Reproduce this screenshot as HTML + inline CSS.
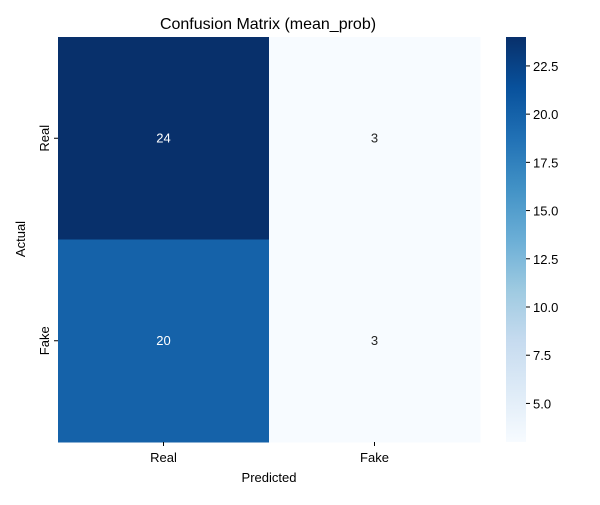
<!DOCTYPE html>
<html><head><meta charset="utf-8"><style>
body{margin:0;background:#fff}
text{font-family:"Liberation Sans","DejaVu Sans",sans-serif;fill:#000}
</style></head><body>
<svg id="chart" width="600" height="500" xmlns="http://www.w3.org/2000/svg">
<defs><linearGradient id="cbgrad" x1="0" y1="1" x2="0" y2="0"></linearGradient></defs>
<text x="268" y="29" font-size="16" text-anchor="middle">Confusion Matrix (mean_prob)</text>
<g id="cells"></g>
<g id="xticks"></g>
<g id="yticks"></g>
<text x="269" y="482" font-size="13" text-anchor="middle">Predicted</text>
<text transform="translate(25,239) rotate(-90)" font-size="13" text-anchor="middle">Actual</text>
<rect x="506" y="37" width="20" height="405" fill="url(#cbgrad)"/>
<g id="cbticks"></g>
</svg>
<script>
const rowLabels=["Real","Fake"];
const colLabels=["Real","Fake"];
const matrix=[[24,3],[20,3]];
const cbTicks=[5.0,7.5,10.0,12.5,15.0,17.5,20.0,22.5];
const NS="http://www.w3.org/2000/svg";
const stops=["#f7fbff","#deebf7","#c6dbef","#9ecae1","#6baed6","#4292c6","#2171b5","#08519c","#08306b"];
function hex(h){return [1,3,5].map(i=>parseInt(h.substr(i,2),16));}
function cmap(t){t=Math.max(0,Math.min(1,t));const p=t*(stops.length-1);const i=Math.min(Math.floor(p),stops.length-2);const f=p-i;const a=hex(stops[i]),b=hex(stops[i+1]);return "rgb("+a.map((v,k)=>Math.round(v+(b[k]-v)*f)).join(",")+")";}
const flat=matrix.flat();const vmin=Math.min(...flat),vmax=Math.max(...flat);
const X0=58,X1=480,Y0=37,Y1=442;
const cw=(X1-X0)/colLabels.length,ch=(Y1-Y0)/rowLabels.length;
function mk(tag,attrs,parent){const e=document.createElementNS(NS,tag);for(const k in attrs)e.setAttribute(k,attrs[k]);parent.appendChild(e);return e;}
const grad=document.getElementById('cbgrad');
stops.forEach((s,i)=>mk('stop',{offset:(i/(stops.length-1)),'stop-color':s},grad));
const cells=document.getElementById('cells');
matrix.forEach((row,r)=>row.forEach((v,c)=>{
 const t=(v-vmin)/(vmax-vmin);
 const rc=mk('rect',{x:X0+c*cw,y:Y0+r*ch,width:cw+0.5,height:ch+0.5,fill:cmap(t)},cells);
 
 
 const tx=mk('text',{x:X0+(c+0.5)*cw,y:Y0+(r+0.5)*ch+4,'font-size':13,'text-anchor':'middle'},cells);
 tx.style.fill=t>0.5?'#fff':'#262626';tx.textContent=v;
 
 
}));
const xt=document.getElementById('xticks');
colLabels.forEach((l,i)=>{const x=X0+(i+0.5)*cw;
 const ln=mk('line',{x1:x,x2:x,y1:Y1,y2:Y1+4,stroke:'#000'},xt);
 
 
 const t=mk('text',{x:x,y:Y1+20,'font-size':13,'text-anchor':'middle'},xt);t.textContent=l;
 
 });
const yt=document.getElementById('yticks');
rowLabels.forEach((l,i)=>{const y=Y0+(i+0.5)*ch;
 const ln=mk('line',{x1:X0-4,x2:X0,y1:y,y2:y,stroke:'#000'},yt);
 
 
 const t=mk('text',{transform:'translate('+(X0-9)+','+y+') rotate(-90)','font-size':13,'text-anchor':'middle'},yt);t.textContent=l;
 
 });
const cb=document.getElementById('cbticks');
cbTicks.forEach(v=>{const y=Y1-(v-vmin)/(vmax-vmin)*(Y1-Y0);
 const ln=mk('line',{x1:526,x2:530,y1:y,y2:y,stroke:'#000'},cb);
 
 
 const t=mk('text',{x:533,y:y+5,'font-size':13},cb);t.textContent=v.toFixed(1);
 
 });
</script>
</body></html>
